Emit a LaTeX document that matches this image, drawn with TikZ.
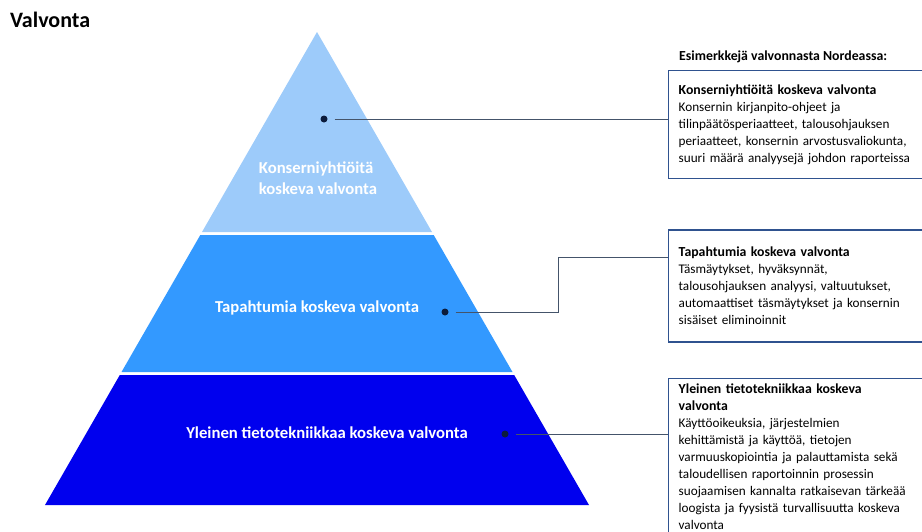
\documentclass[tikz,border=0pt]{standalone}
\usepackage{fontspec}
\setmainfont{Carlito}
\usetikzlibrary{positioning,calc}
\definecolor{tierTop}{RGB}{157,203,250}
\definecolor{tierMid}{RGB}{51,153,255}
\definecolor{tierLow}{RGB}{0,0,238}
\definecolor{boxLine}{RGB}{47,82,143}
\definecolor{linkLine}{RGB}{68,84,106}
\definecolor{dotNavy}{RGB}{12,28,60}
\newcommand{\boxhead}[1]{{\fontsize{13.8}{17}\selectfont\bfseries #1}}

\begin{document}
\begin{tikzpicture}[x=1pt, y=-1pt,
  tiertext/.style={text=white, font=\fontsize{16.7}{20.5}\selectfont\bfseries, align=left},
  dot/.style={circle, fill=dotNavy, inner sep=0pt, minimum size=7pt},
  link/.style={linkLine, line width=1pt, shorten <=7pt},
  box/.style={draw=boxLine, line width=1.4pt, align=left, text width=270pt,
              inner xsep=10pt, inner ysep=5pt, font=\fontsize{13.2}{17}\selectfont},
  head/.style={font=\fontsize{13.8}{17}\selectfont\bfseries}
]
  \useasboundingbox (0,0) rectangle (922,531);

  % Title
  \node[anchor=base west, inner sep=0pt, font=\fontsize{22}{26}\selectfont\bfseries] (title) at (10,27) {Valvonta};

  % Pyramid tiers
  \fill[tierTop] (317,32) -- (432,232) -- (202,232) -- cycle;
  \fill[tierMid] (200.3,235) -- (433.7,235) -- (512.5,372) -- (121.5,372) -- cycle;
  \fill[tierLow] (119.8,375) -- (514.2,375) -- (589,505) -- (45,505) -- cycle;

  \node[tiertext] (topText) at (318,178) {Konserniyhtiöitä\\koskeva valvonta};
  \node[tiertext] (midText) at (317,308) {Tapahtumia koskeva valvonta};
  \node[tiertext] (lowText) at (327,433) {Yleinen tietotekniikkaa koskeva valvonta};

  % Dots
  \node[dot] (dot1) at (324,119) {};
  \node[dot] (dot2) at (445,312) {};
  \node[dot] (dot3) at (505,434) {};

  % Examples on the right
  \node[head, anchor=west, inner sep=0pt] (examples) at (679,57) {Esimerkkejä valvonnasta Nordeassa:};

  \node[box, anchor=north west, minimum height=108pt] (box1) at (668,70)
    {\boxhead{Konserniyhtiöitä koskeva valvonta}\\
     Konsernin kirjanpito-ohjeet ja\\
     tilinpäätösperiaatteet, talousohjauksen\\
     periaatteet, konsernin arvostusvaliokunta,\\
     suuri määrä analyysejä johdon raporteissa};

  \node[box, below=50pt of box1.south west, anchor=north west, minimum height=112pt] (box2)
    {\boxhead{Tapahtumia koskeva valvonta}\\
     Täsmäytykset, hyväksynnät,\\
     talousohjauksen analyysi, valtuutukset,\\
     automaattiset täsmäytykset ja konsernin\\
     sisäiset eliminoinnit};

  \node[box, below=35pt of box2.south west, anchor=north west] (box3)
    {\boxhead{Yleinen tietotekniikkaa koskeva}\\
     \boxhead{valvonta}\\
     Käyttöoikeuksia, järjestelmien\\
     kehittämistä ja käyttöä, tietojen\\
     varmuuskopiointia ja palauttamista sekä\\
     taloudellisen raportoinnin prosessin\\
     suojaamisen kannalta ratkaisevan tärkeää\\
     loogista ja fyysistä turvallisuutta koskeva\\
     valvonta};

  % Connectors
  \coordinate (bend) at (558,257);
  \draw[link] (dot1) -- (dot1 -| box1.west);
  \draw[link] (dot2) -| (bend) -- (bend -| box2.west);
  \draw[link] (dot3) -- (dot3 -| box3.west);
\end{tikzpicture}
\end{document}
